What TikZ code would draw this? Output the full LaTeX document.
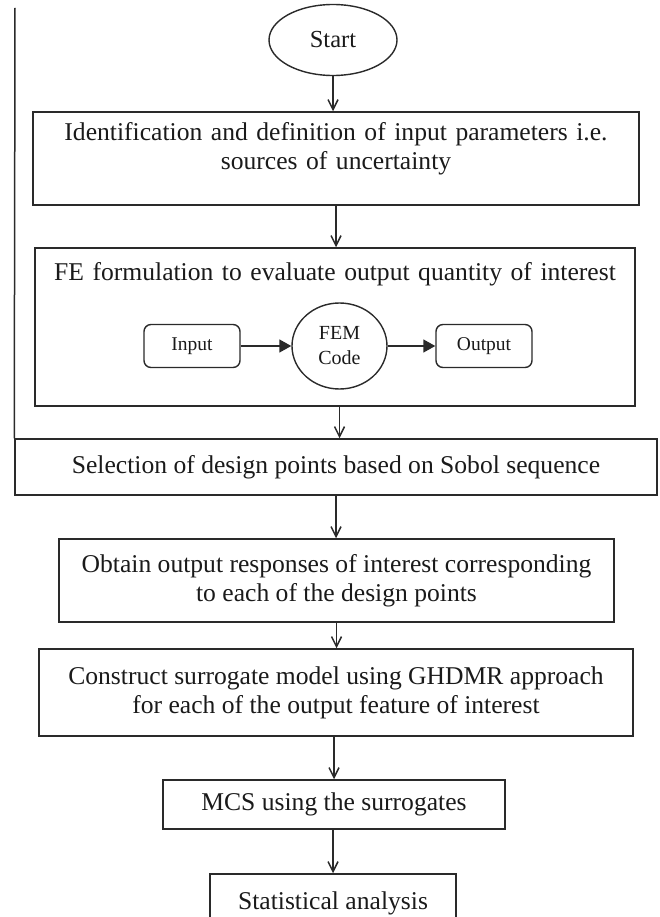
\documentclass[tikz,border=0pt]{standalone}
\usepackage{fontspec}
\setmainfont{Liberation Serif}
\usetikzlibrary{arrows.meta, shapes.geometric, positioning}
\definecolor{Ink}  {HTML}{1A1A1A}
\definecolor{Edge} {HTML}{2A2A2A}
\tikzset{
  blk/.style args={#1/#2}{
    rectangle, draw=Edge, text=Ink,
    font=\fontsize{25.6}{29}\selectfont, align=center,
    inner sep=6pt, minimum width=#1, minimum height=#2,
    line width=1.5pt,
  },
  topblk/.style args={#1/#2}{
    blk=#1/#2, text width=#1-20pt, inner ysep=8pt,
  },
  sblk/.style={
    rectangle, rounded corners=7pt, draw=Edge, text=Ink,
    font=\fontsize{19.5}{25}\selectfont, align=center,
    minimum width=96pt, minimum height=43pt, line width=1.4pt,
  },
  ovl/.style args={#1/#2}{
    ellipse, draw=Edge, text=Ink, align=center, inner sep=0pt,
    minimum width=#1, minimum height=#2, line width=1.4pt,
  },
  arr/.style={
    -{Straight Barb[length=10pt,width=10pt]},
    line width=1.5pt, color=Edge,
  },
  sarr/.style={
    -{Triangle[length=12pt,width=13pt]},
    line width=1.4pt, color=Edge,
  },
}

\begin{document}
\begin{tikzpicture}[x=1pt,y=-1pt]
  \path[use as bounding box, clip] (0,0) rectangle (660,917);

  \node[ovl=128pt/71pt, font=\fontsize{24.5}{28}\selectfont] (start) at (333,40) {Start};
  \node[topblk=606pt/93pt, text height=21pt, text depth=56pt] (ident) at (336,158.5)
    {Identification and definition of input parameters i.e.\\sources of uncertainty};

  % FE block with the small solver chain inside
  \node[topblk=600pt/158pt, text height=24pt, text depth=118pt] (fe) at (335,327)
    {FE formulation to evaluate output quantity of interest};
  \node[sblk] (inp) at (192,346) {Input};
  \node[ovl=95pt/86pt, font=\fontsize{20}{25}\selectfont] (fem) at (339.5,346) {FEM\\Code};
  \node[sblk] (outp) at (484,346) {Output};
  \draw[sarr] (inp)--(fem); \draw[sarr] (fem)--(outp);

  \node[blk=642pt/56pt] (sel) at (336,467) {Selection of design points based on Sobol sequence};
  \node[blk=555pt/83pt] (obt) at (336.5,580.5)
    {Obtain output responses of interest corresponding\\to each of the design points};
  \node[blk=594pt/87pt] (sur) at (336,692.5)
    {Construct surrogate model using GHDMR approach\\for each of the output feature of interest};
  \node[blk=342pt/49pt] (mcs) at (334,804.5) {MCS using the surrogates};
  \node[blk=246pt/58pt] (stat) at (333,903) {Statistical analysis};

  \coordinate (ltop) at (15,8);
  \draw[line width=1.5pt, Edge] (ltop)--(sel.north west);

  \draw[arr] (start)--(start |- ident.north);
  \draw[arr] (ident)--(ident |- fe.north);
  \draw[arr] (fem |- fe.south)--(fem |- sel.north);
  \draw[arr] (sel)--(sel |- obt.north);
  \draw[arr] (obt)--(obt |- sur.north);
  \draw[arr] (sur.south -| mcs)--(mcs);
  \draw[arr] (mcs.south -| stat)--(stat);
\end{tikzpicture}
\end{document}
